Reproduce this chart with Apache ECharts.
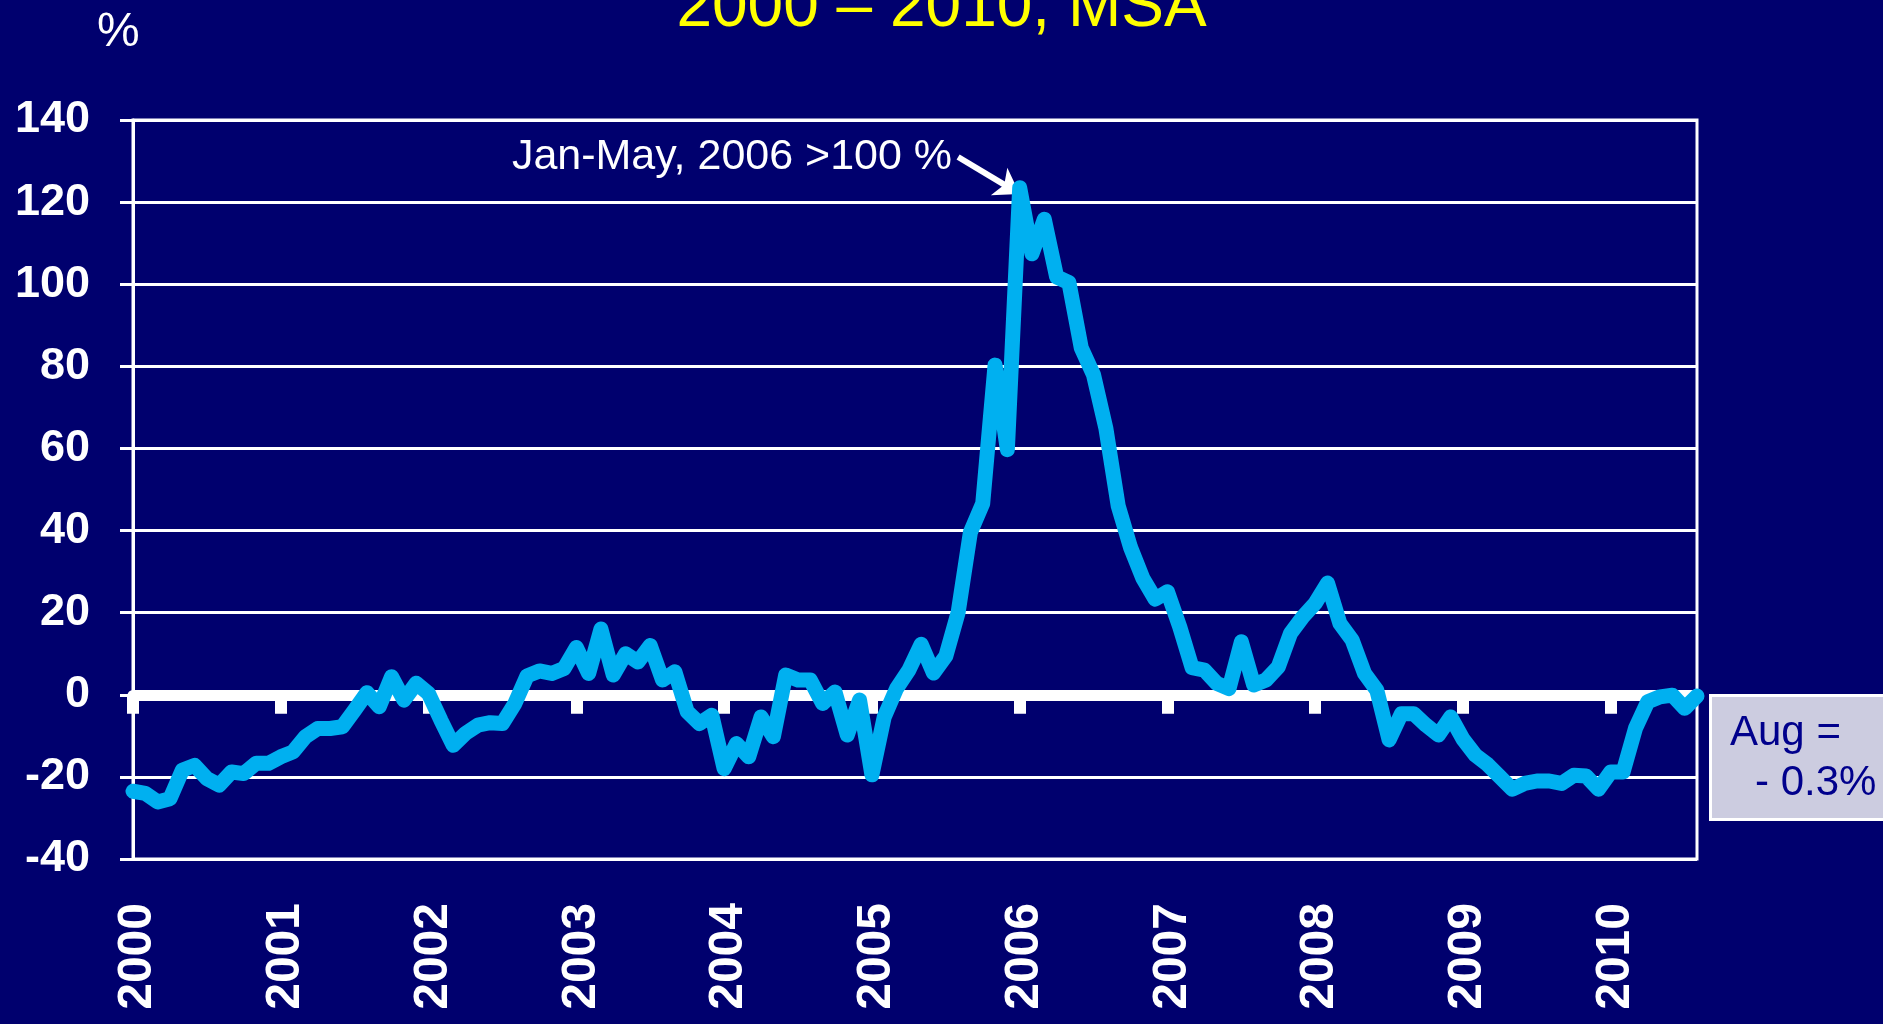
<!DOCTYPE html>
<html>
<head>
<meta charset="utf-8">
<script src="https://cdn.jsdelivr.net/npm/echarts@6/dist/echarts.min.js"></script>
<style>
html,body{margin:0;padding:0;background:#00006E;}
#chart{width:1883px;height:1024px;}
</style>
</head>
<body>
<div id="chart"></div>
<script>
// Monthly values, % change, Jan 2000 - Aug 2010
var v2000 = [-23.5, -24, -26.1, -25.3, -18.4, -17.2, -20.4, -22, -18.8, -19.2, -16.7, -16.7];
var v2001 = [-15.1, -13.9, -10.2, -8.2, -8.2, -7.8, -3.7, 0.5, -2.9, 4.4, -1.3, 2.8];
var v2002 = [0.3, -6.2, -12.3, -9.4, -7.4, -6.8, -7, -2.2, 4.6, 5.8, 5.2, 6.4];
var v2003 = [11.5, 5.2, 16, 4.8, 10, 8, 12, 3.6, 5.6, -4.1, -7, -5];
var v2004 = [-18, -11.9, -15.1, -5.4, -10.2, 4.8, 3.6, 3.6, -2.1, 0.7, -9.8, -1.3];
var v2005 = [-19.5, -5.4, 1.5, 6, 12.3, 5.3, 9.4, 20, 39.6, 46.6, 80.3, 59.7];
var v2006 = [123.5, 107.4, 115.8, 101.8, 100.4, 84.5, 77.9, 64.9, 46, 35.9, 28.4, 23.3];
var v2007 = [25.1, 16.5, 6.6, 6, 2.8, 1.5, 12.9, 2.4, 3.6, 6.8, 15, 19];
var v2008 = [22.3, 27.2, 17.4, 13.3, 5.2, 1.1, -11, -4.6, -4.6, -7.4, -9.8, -5.4];
var v2009 = [-10.8, -14.7, -17, -20, -23, -21.6, -21, -21, -21.6, -19.6, -19.8, -23];
var v2010 = [-18.8, -18.8, -8.2, -1.7, -0.5, -0.1, -3.3, -0.3];

var years = ['2000','2001','2002','2003','2004','2005','2006','2007','2008','2009','2010'];
var yearValues = [v2000, v2001, v2002, v2003, v2004, v2005, v2006, v2007, v2008, v2009, v2010];

var yTicks = {min: -40, max: 140, interval: 20};
var titleText = '2000 \u2013 2010, MSA';
var unitText = '%';
var noteText = 'Jan-May, 2006 >100 %';
var noteFrom = {idx: 67, value: 131};
var noteTo = {idx: 72, value: 122};
var boxLine1 = 'Aug =';
var boxLine2 = '- 0.3%';

var cats = [];
var values = [];
yearValues.forEach(function (arr, yi) {
  arr.forEach(function (v, m) {
    cats.push(years[yi] + '-' + (m < 9 ? '0' : '') + (m + 1));
    values.push(v);
  });
});

var FONT = "'Liberation Sans', Arial, Helvetica, sans-serif";
var chart = echarts.init(document.getElementById('chart'), null, {renderer: 'canvas'});

var option = {
  backgroundColor: '#00006E',
  animation: false,
  title: [
    {text: titleText, left: 'center', top: -24, padding: 0,
     textStyle: {color: '#FFFF00', fontSize: 64, fontWeight: 'normal', fontFamily: FONT}},
    {text: unitText, left: 97, top: 9, padding: 0,
     textStyle: {color: '#FFFFFF', fontSize: 48, fontWeight: 'normal', fontFamily: FONT}}
  ],
  grid: {left: 133, right: 186, top: 120, bottom: 165, show: true,
         borderColor: '#FFFFFF', borderWidth: 3, backgroundColor: 'transparent'},
  xAxis: [
    {
      type: 'category', data: cats, boundaryGap: false, position: 'bottom',
      axisLine: {show: false, onZero: false},
      axisTick: {show: false},
      splitLine: {show: false},
      axisLabel: {
        show: true, rotate: 90, margin: 44, verticalAlign: 'top', lineHeight: 10,
        interval: function (i) { return i % 12 === 0; },
        formatter: function (val) { return val.slice(0, 4); },
        color: '#FFFFFF', fontSize: 48, fontWeight: 'bold', fontFamily: FONT
      }
    },
    {
      type: 'category', data: cats, boundaryGap: false, position: 'top',
      axisLine: {show: true, onZero: true, lineStyle: {color: '#FFFFFF', width: 11}},
      axisTick: {show: true, inside: true, length: 19,
                 interval: function (i) { return i % 12 === 0; },
                 lineStyle: {color: '#FFFFFF', width: 12}},
      axisLabel: {show: false},
      splitLine: {show: false}
    }
  ],
  yAxis: {
    type: 'value', min: yTicks.min, max: yTicks.max, interval: yTicks.interval,
    axisLine: {show: true, lineStyle: {color: '#FFFFFF', width: 3}},
    axisTick: {show: true, inside: false, length: 13, lineStyle: {color: '#FFFFFF', width: 3}},
    splitLine: {show: true, lineStyle: {color: '#FFFFFF', width: 3}},
    axisLabel: {margin: 43, color: '#FFFFFF', fontSize: 45, fontWeight: 'bold', fontFamily: FONT}
  },
  series: [{
    type: 'line', data: values, xAxisIndex: 0, yAxisIndex: 0,
    showSymbol: false, symbol: 'none', smooth: false, z: 5,
    lineStyle: {color: '#00B0F0', width: 15, join: 'round', cap: 'round'},
    markLine: {
      silent: true, animation: false,
      symbol: ['none', 'arrow'], symbolSize: [24, 24],
      lineStyle: {color: '#FFFFFF', width: 6, type: 'solid'},
      label: {show: false},
      data: [[{coord: [cats[noteFrom.idx], noteFrom.value]}, {coord: [cats[noteTo.idx], noteTo.value]}]]
    },
    markPoint: {
      silent: true, animation: false,
      symbol: 'circle', symbolSize: 0,
      label: {show: true, position: 'left', distance: 6, formatter: noteText,
              color: '#FFFFFF', fontSize: 43, fontFamily: FONT},
      data: [{coord: [cats[noteFrom.idx], noteFrom.value]}]
    }
  }],
  graphic: [
    {type: 'rect', left: 1709, top: 694, z: 10,
     shape: {width: 190, height: 124},
     style: {fill: '#CCCCE0', stroke: '#FFFFFF', lineWidth: 3}},
    {type: 'text', x: 1730, y: 733, z: 11,
     style: {text: boxLine1, fill: '#00008C', font: '42px ' + FONT, verticalAlign: 'middle', align: 'left'}},
    {type: 'text', x: 1755, y: 783, z: 11,
     style: {text: boxLine2, fill: '#00008C', font: '42px ' + FONT, verticalAlign: 'middle', align: 'left'}}
  ]
};
chart.setOption(option);
</script>
</body>
</html>
